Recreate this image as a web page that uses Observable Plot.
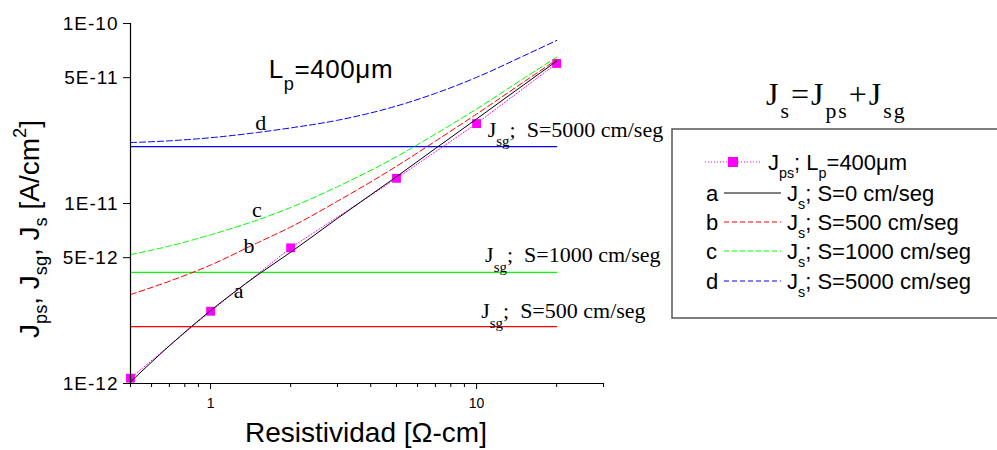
<!DOCTYPE html>
<html><head><meta charset="utf-8">
<script src="https://cdn.jsdelivr.net/npm/d3@7"></script>
<script src="https://cdn.jsdelivr.net/npm/@observablehq/plot@0.6"></script>
<style>
html,body{margin:0;padding:0;background:#fff;}
#chart{width:997px;height:450px;overflow:hidden;}
#chart svg{overflow:visible;}
</style></head><body><div id="chart"></div>
<script>
// ---- data ----
const rhoPoints = [0.5, 1, 2, 5, 10, 20];                       // Resistividad [Ω-cm]
const JpsPoints = [1.07e-12, 2.52e-12, 5.67e-12, 1.38e-11, 2.78e-11, 6.0e-11];

const rhoCurve = [0.5, 0.7, 1, 1.5, 2, 3, 5, 7, 10, 15, 20];
const Js_S0    = [1.02e-12, 1.62e-12, 2.54e-12, 4.0e-12, 5.36e-12, 8.27e-12, 1.41e-11, 2.02e-11, 2.95e-11, 4.55e-11, 6.18e-11];
const Js_S500  = [3.12e-12, 3.7e-12, 4.55e-12, 6.05e-12, 7.4e-12, 1.03e-11, 1.61e-11, 2.22e-11, 3.14e-11, 4.72e-11, 6.3e-11];
const Js_S1000 = [5.2e-12, 5.8e-12, 6.7e-12, 8.1e-12, 9.5e-12, 1.24e-11, 1.82e-11, 2.43e-11, 3.35e-11, 4.94e-11, 6.5e-11];
const Js_S5000 = [2.18e-11, 2.23e-11, 2.32e-11, 2.48e-11, 2.63e-11, 2.9e-11, 3.48e-11, 4.09e-11, 5.02e-11, 6.6e-11, 8.05e-11];

const rhoSpan = [0.5, 20];
const Jsg_S500 = 2.07e-12, Jsg_S1000 = 4.14e-12, Jsg_S5000 = 2.07e-11;

const yTicks = [1e-12, 5e-12, 1e-11, 5e-11, 1e-10];
const yTickLabels = ["1E-12", "5E-12", "1E-11", "5E-11", "1E-10"];
const xMajorTicks = [1, 10];
const xMinorTicks = [0.5, 0.6, 0.7, 0.8, 0.9, 2, 3, 4, 5, 6, 7, 8, 9, 20, 30];

// annotation anchors in data units
const curveLabels = ["a", "b", "c", "d"];
const curveLabelAt = [[1.28, 2.98e-12], [1.40, 5.30e-12], [1.50, 8.39e-12], [1.55, 2.54e-11]];
const jsgLabelS = ["5000", "1000", "500"];
const jsgLabelAt = [[11.06, 2.34e-11], [10.81, 4.72e-12], [10.45, 2.29e-12]];
const lpLabelAt = [1.66, 4.95e-11];

// ---- tables ----
const pts = rhoPoints.map((x, i) => ({x, y: JpsPoints[i]}));
const rows = vals => rhoCurve.map((x, i) => ({x, y: vals[i]}));
const hline = v => rhoSpan.map(x => ({x, y: v}));

const chart = Plot.plot({
  width: 997, height: 450,
  marginLeft: 130, marginRight: 394, marginTop: 23, marginBottom: 67,
  x: {type: "log", domain: [0.5, 30]},
  y: {type: "log", domain: [1e-12, 1e-10]},
  style: {fontFamily: "Liberation Sans", background: "white", color: "black"},
  marks: [
    Plot.line(hline(Jsg_S500), {x: "x", y: "y", stroke: "#FF0000", strokeWidth: 1.2}),
    Plot.line(hline(Jsg_S1000), {x: "x", y: "y", stroke: "#00FF00", strokeWidth: 1.2}),
    Plot.line(hline(Jsg_S5000), {x: "x", y: "y", stroke: "#0000FF", strokeWidth: 1.2}),
    Plot.line(pts, {x: "x", y: "y", stroke: "#FF00FF", strokeWidth: 1, strokeDasharray: "1,2"}),
    Plot.dot(pts, {x: "x", y: "y", symbol: "square", fill: "#FF00FF", r: 5}),
    Plot.line(rows(Js_S500), {x: "x", y: "y", stroke: "#FF0000", strokeWidth: 1, strokeDasharray: "6,3", curve: "monotone-x"}),
    Plot.line(rows(Js_S1000), {x: "x", y: "y", stroke: "#00FF00", strokeWidth: 1, strokeDasharray: "6,3", curve: "monotone-x"}),
    Plot.line(rows(Js_S5000), {x: "x", y: "y", stroke: "#0000FF", strokeWidth: 1, strokeDasharray: "6,3", curve: "monotone-x"}),
    Plot.line(rows(Js_S0), {x: "x", y: "y", stroke: "#000000", strokeWidth: 1, curve: "monotone-x"}),
    Plot.axisY({ticks: yTicks, tickFormat: d => yTickLabels[yTicks.indexOf(d)], tickSize: 7, tickPadding: 5, fontSize: 19, label: null}),
    Plot.axisX({ticks: xMajorTicks, tickFormat: d => String(d), tickSize: 6, tickPadding: 9, fontSize: 14, label: null}),
    Plot.axisX({ticks: xMinorTicks, tickFormat: () => "", tickSize: 4, label: null}),
    Plot.frame({anchor: "left", strokeWidth: 1.2}),
    Plot.frame({anchor: "bottom", strokeWidth: 1.2})
  ]
});
document.getElementById("chart").appendChild(chart);

// ---- annotations ----
const svg = d3.select(chart);
// widen y tick labels slightly like the reference
svg.selectAll("g[aria-label='y-axis tick label'] text").attr("letter-spacing", 1);
const sx = chart.scale("x"), sy = chart.scale("y");
const g = svg.append("g");

function rich(x, y, segs, o) {
  const size = o.size;
  const t = g.append("text").attr("x", x).attr("y", y)
    .attr("font-family", o.family).attr("font-size", size)
    .attr("text-anchor", o.anchor || "start").attr("fill", "black")
    .style("white-space", "pre");
  if (o.ls) t.attr("letter-spacing", o.ls);
  if (o.rotate) t.attr("transform", `rotate(${o.rotate},${x},${y})`);
  let shift = 0;
  for (const [s, kind] of segs) {
    const sp = t.append("tspan").text(s);
    const target = kind === "sub" ? size * (o.subShift ?? 0.3) : kind === "sup" ? -size * (o.supShift ?? 0.45) : 0;
    if (target - shift) sp.attr("dy", target - shift);
    shift = target;
    if (kind !== "n") sp.attr("font-size", size * (o.subScale ?? 0.65));
  }
  return t;
}
const SANS = "Liberation Sans", SERIF = "Liberation Serif";

// curve labels
curveLabels.forEach((lab, i) => {
  rich(sx.apply(curveLabelAt[i][0]), sy.apply(curveLabelAt[i][1]), [[lab, "n"]], {family: SERIF, size: 22, anchor: "middle"});
});
// Jsg labels
jsgLabelS.forEach((s, i) => {
  rich(sx.apply(jsgLabelAt[i][0]), sy.apply(jsgLabelAt[i][1]),
    [["J", "n"], ["sg", "sub"], [";\u00A0\u00A0S=" + s + " cm/seg", "n"]],
    {family: SERIF, size: 22, subScale: 0.68, subShift: 0.45});
});
// Lp label
rich(sx.apply(lpLabelAt[0]), sy.apply(lpLabelAt[1]),
  [["L", "n"], ["p", "sub"], ["=400\u03BCm", "n"]],
  {family: SANS, size: 26, subScale: 0.7, subShift: 0.45, ls: 0.6});

// axis titles
rich(366, 442, [["Resistividad [\u03A9-cm]", "n"]], {family: SANS, size: 28, anchor: "middle"});
rich(39, 229, [["J", "n"], ["ps", "sub"], [", J", "n"], ["sg", "sub"], [", J", "n"], ["s", "sub"], [" [A/cm", "n"], ["2", "sup"], ["]", "n"]],
  {family: SANS, size: 28, anchor: "middle", rotate: -90, subShift: 0.3, supShift: 0.45});

// formula
rich(766, 105, [["J", "n"], ["s", "sub"], ["=J", "n"], ["ps", "sub"], ["+J", "n"], ["sg", "sub"]],
  {family: SERIF, size: 32, subScale: 0.68, subShift: 0.42, ls: 2});

// legend
g.append("rect").attr("x", 672).attr("y", 129).attr("width", 340).attr("height", 189)
  .attr("fill", "white").attr("stroke", "#555").attr("stroke-width", 1.5);
g.append("line").attr("x1", 705).attr("x2", 760).attr("y1", 162).attr("y2", 162)
  .attr("stroke", "#FF00FF").attr("stroke-dasharray", "1,2");
g.append("rect").attr("x", 728).attr("y", 157).attr("width", 10).attr("height", 10).attr("fill", "#FF00FF");
rich(768, 170, [["J", "n"], ["ps", "sub"], ["; L", "n"], ["p", "sub"], ["=400\u03BCm", "n"]], {family: SANS, size: 22, subShift: 0.35});

const legRows = [
  {lab: "a", color: "#000000", dash: null, s: "0", y: 193},
  {lab: "b", color: "#FF0000", dash: "5,3", s: "500", y: 222},
  {lab: "c", color: "#00FF00", dash: "5,3", s: "1000", y: 251},
  {lab: "d", color: "#0000FF", dash: "5,3", s: "5000", y: 281}
];
legRows.forEach(r => {
  rich(706, r.y + 8, [[r.lab, "n"]], {family: SANS, size: 22});
  const ln = g.append("line").attr("x1", 724).attr("x2", 781).attr("y1", r.y).attr("y2", r.y)
    .attr("stroke", r.color).attr("stroke-width", 1);
  if (r.dash) ln.attr("stroke-dasharray", r.dash);
  rich(787, r.y + 8, [["J", "n"], ["s", "sub"], ["; S=" + r.s + " cm/seg", "n"]], {family: SANS, size: 22, subShift: 0.35});
});
</script></body></html>
